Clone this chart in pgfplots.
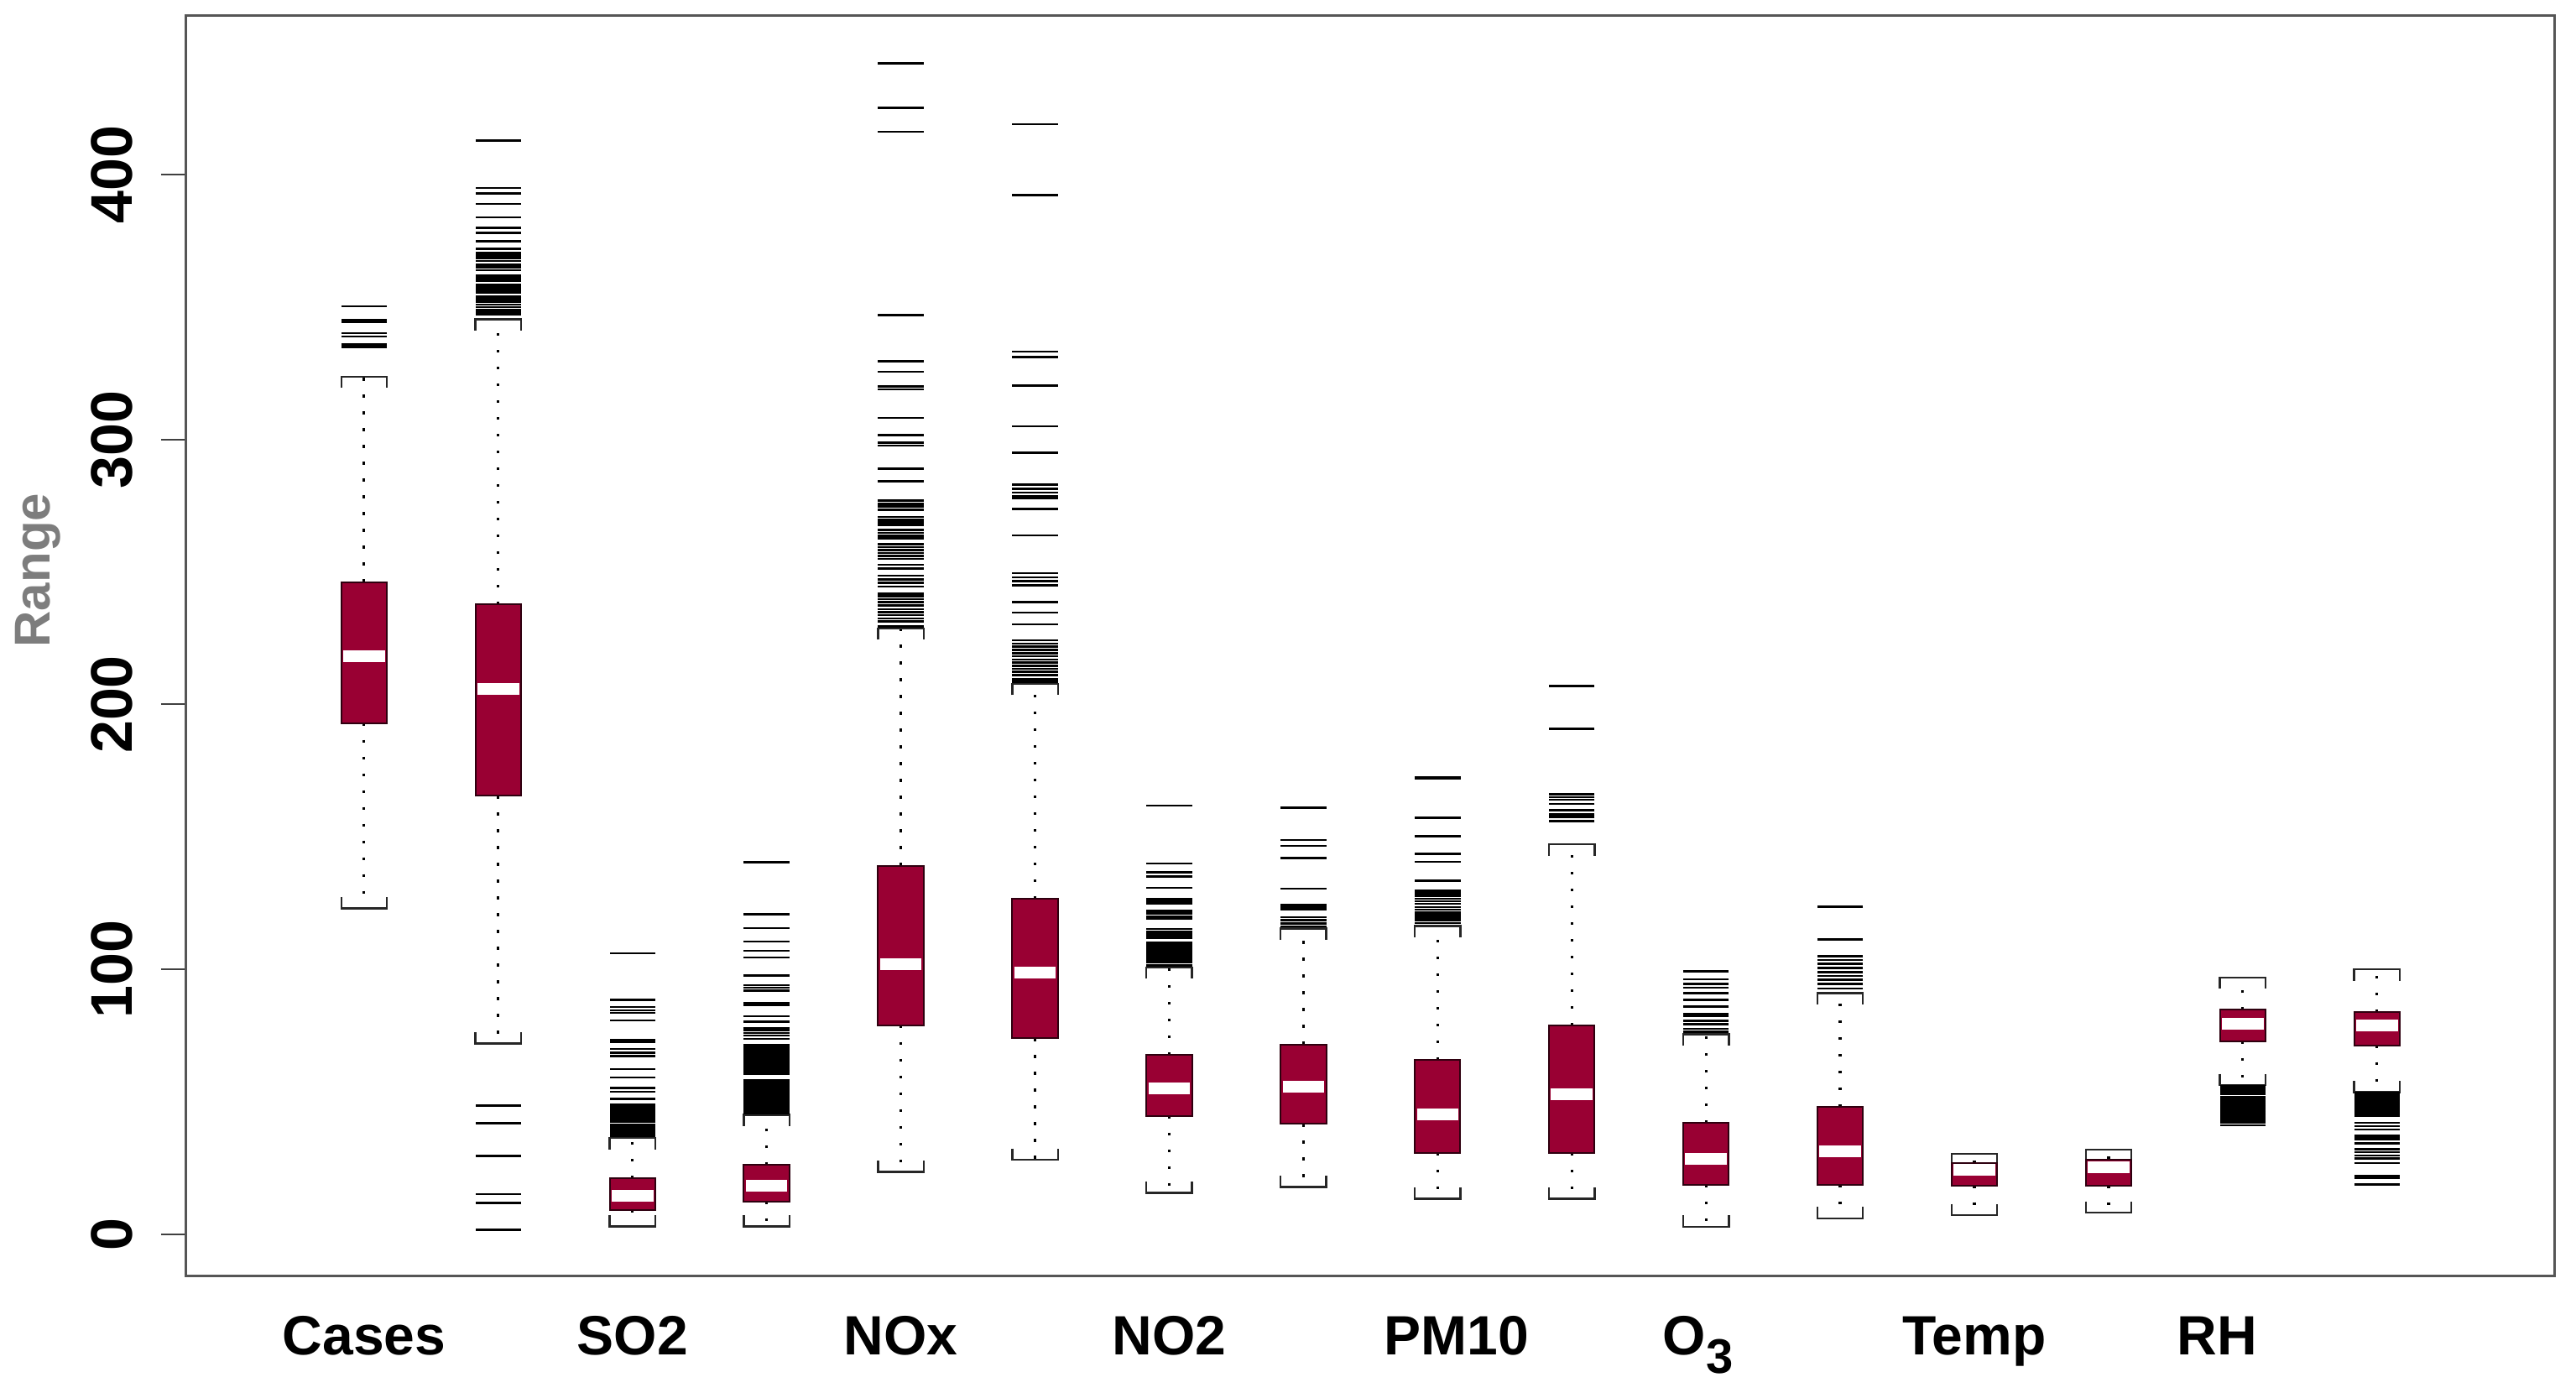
\documentclass[border=0pt]{standalone}
\usepackage{fontspec}
\setmainfont{Liberation Sans}
\usepackage{pgfplots}
\pgfplotsset{compat=1.18}
\definecolor{boxred}{RGB}{153,0,51}
\definecolor{framec}{RGB}{85,85,85}
\definecolor{labc}{RGB}{125,125,125}
\pgfplotsset{
  whisk/.style={black, line width=0.8pt, dash pattern=on 0.8pt off 4.2pt, forget plot},
  stap/.style={black!85, line width=0.6pt, forget plot},
  boxst/.style={fill=boxred, draw=black!70!boxred, line width=0.5pt, forget plot},
  med/.style={white, line width=3.5pt, forget plot},
  outl/.style={only marks, mark=-, mark size=6.8pt, mark options={line width=0.65pt, black}, forget plot},
}
% x, lower whisker, q1, median, q3, upper whisker
\newcommand\bx[6]{%
  \pgfmathsetmacro\xl{#1-0.17}\pgfmathsetmacro\xr{#1+0.17}%
  \pgfmathsetmacro\ml{#1-0.155}\pgfmathsetmacro\mr{#1+0.155}%
  \pgfmathsetmacro\lleg{#2+4.3}\pgfmathsetmacro\uleg{#6-4.3}%
  \addplot[whisk] coordinates {(#1,#3) (#1,#2)};
  \addplot[whisk] coordinates {(#1,#5) (#1,#6)};
  \addplot[stap] coordinates {(\xl,\lleg) (\xl,#2) (\xr,#2) (\xr,\lleg)};
  \addplot[stap] coordinates {(\xl,\uleg) (\xl,#6) (\xr,#6) (\xr,\uleg)};
  \addplot[boxst] coordinates {(\xl,#3) (\xr,#3) (\xr,#5) (\xl,#5)} -- cycle;
  \addplot[med] coordinates {(\ml,#4) (\mr,#4)};
}
\begin{document}
\begin{tikzpicture}
\begin{axis}[
  scale only axis, width=705.5pt, height=375.375pt,
  xmin=-0.325, xmax=17.321, ymin=-15.8, ymax=460,
  axis line style={draw=framec, line width=0.75pt},
  tick align=outside, major tick length=7.5pt,
  ytick pos=left, xtick pos=bottom,
  ytick={0,100,200,300,400},
  xtick={1,3,5,7,9.14,10.94,13,14.81},
  xticklabels={Cases,SO2,NOx,NO2,PM10,{O\raisebox{-0.32em}{\fontsize{14.5}{15}\selectfont 3}},Temp,RH},
  xtick style={draw=none},
  ytick style={black!75, line width=0.5pt},
  /pgf/number format/assume math mode=true,
  yticklabel style={font=\fontsize{17.5}{18}\selectfont\bfseries, rotate=90, anchor=south, inner sep=0pt},
  yticklabel shift=8.25pt,
  xticklabel style={font=\fontsize{16.5}{18}\selectfont\bfseries, anchor=base, inner sep=0pt},
  xticklabel shift=16.1pt,
  ylabel={Range},
  ylabel style={font=\fontsize{15}{16}\selectfont\bfseries, text=labc, at={(axis description cs:-0.06265,0.56)}, anchor=center},
]
\bx{1}{123}{193}{218.3}{246.2}{323.8}
\bx{2}{72}{165.5}{206}{237.8}{345.5}
\bx{3}{2.9}{9.2}{14.5}{21.1}{36.3}
\bx{4}{2.9}{12.4}{18.2}{26.1}{45}
\bx{5}{23.5}{78.8}{102}{139.1}{228.7}
\bx{6}{28}{73.9}{98.8}{126.7}{207.8}
\bx{7}{15.6}{44.7}{55}{67.7}{100.7}
\bx{8}{17.8}{41.6}{55.7}{71.6}{115.4}
\bx{9}{13.4}{30.7}{45.2}{65.8}{116.4}
\bx{10}{13.4}{30.7}{52.8}{78.8}{147.2}
\bx{11}{2.8}{18.6}{28.5}{41.9}{75.4}
\bx{12}{5.9}{18.6}{31.4}{48.1}{91}
\bx{13}{7.1}{18.4}{24.2}{26.8}{30.3}
\bx{14}{8.1}{18.4}{25.2}{28.2}{31.9}
\bx{15}{56.2}{72.8}{79.4}{84.7}{96.9}
\bx{16}{53.6}{71.3}{78.9}{83.9}{100}
% outliers
\addplot[outl] table[row sep=\\, x expr=1, y index=0] {v\\335\\336\\339\\340.2\\344.5\\345.3\\350.4\\};
\addplot[outl] table[row sep=\\, x expr=2, y index=0] {v\\413\\395\\393\\389\\384\\380\\378\\375\\372\\370.5\\369.5\\368.5\\367.5\\366\\365\\364\\362\\361\\360\\358.5\\357.5\\356.5\\355.5\\354\\353\\352\\351\\350\\349\\348\\347.3\\48.6\\41.9\\29.5\\15.1\\11.7\\1.7\\};
\addplot[outl] table[row sep=\\, x expr=3, y index=0] {v\\106\\88.4\\85.8\\84.5\\83.6\\80.7\\73.3\\72.5\\69.9\\68.5\\67.3\\62.3\\59.1\\55.1\\53.8\\51.1\\48.8\\48\\47.2\\46.4\\45.6\\44.8\\44\\43.2\\42.5\\41.4\\40.6\\39.8\\39\\38.2\\37.4\\36.9\\};
\addplot[outl] table[row sep=\\, x expr=4, y index=0] {v\\140.5\\120.7\\115.5\\110.5\\107\\104.5\\97.6\\94\\93\\92\\87.3\\86.5\\82.3\\80.2\\77.9\\77\\76\\75\\73.7\\71.5\\70.7\\70\\69.2\\68.4\\67.6\\66.8\\66\\65.2\\64.4\\63.6\\62.8\\62\\61.2\\60.4\\58\\57.2\\56.4\\55.6\\54.8\\54\\53.2\\52.4\\51.6\\50.8\\50\\49.2\\48.4\\47.6\\46.8\\46\\45.5\\};
\addplot[outl] table[row sep=\\, x expr=5, y index=0] {v\\442\\425.3\\416.2\\347.1\\329.6\\325.6\\320\\319\\308.2\\301.8\\298.8\\297.8\\289.1\\284.3\\276.9\\275.8\\274.7\\273.6\\270.8\\269.8\\268.8\\267.8\\265.9\\264.8\\263.7\\262.7\\260.5\\259.4\\258.3\\257.2\\256.1\\255\\252.8\\251.4\\248.6\\247.3\\245.9\\244.5\\241.9\\240.8\\239.7\\238.6\\237.4\\235.9\\234.8\\233.7\\232.5\\231.4\\229.5\\};
\addplot[outl] table[row sep=\\, x expr=6, y index=0] {v\\419.1\\392.4\\333.3\\331.1\\320.5\\305\\295.1\\283\\281.5\\280\\278.5\\277.8\\273.8\\263.8\\249.6\\248\\246.5\\245\\238.7\\234.7\\230.3\\224.2\\223\\221.8\\220.6\\219.4\\218.2\\217\\215.8\\214.6\\213.4\\212.3\\211\\209.5\\208.5\\};
\addplot[outl] table[row sep=\\, x expr=7, y index=0] {v\\161.8\\140\\136.7\\135\\130.7\\126.5\\125.6\\124.8\\122\\121\\120\\119.2\\115.2\\114.3\\113.4\\112.6\\111.8\\110\\109.2\\108.4\\107.6\\106.8\\106\\105.2\\104.4\\103.6\\102.8\\101.5\\};
\addplot[outl] table[row sep=\\, x expr=8, y index=0] {v\\161\\148.8\\146.6\\142\\130.4\\124.2\\123.3\\122.5\\119.7\\118.5\\117.2\\116.2\\};
\addplot[outl] table[row sep=\\, x expr=9, y index=0] {v\\172.6\\172\\157.2\\150.3\\143.5\\140.6\\133.4\\129.7\\128.7\\127.7\\126.7\\125.7\\124.7\\123.5\\122.5\\121.5\\120.5\\119.5\\118.5\\117.5\\};
\addplot[outl] table[row sep=\\, x expr=10, y index=0] {v\\207\\190.8\\166\\165\\164\\162.5\\160\\158.5\\157.5\\156\\};
\addplot[outl] table[row sep=\\, x expr=11, y index=0] {v\\99.3\\96.2\\94.5\\93.1\\91\\88.4\\86\\83.2\\82.5\\80.5\\79.2\\77.5\\76.5\\};
\addplot[outl] table[row sep=\\, x expr=12, y index=0] {v\\123.6\\111.3\\104.9\\103.5\\102\\100.5\\99\\97.5\\96\\94.5\\92.7\\};
\addplot[outl] table[row sep=\\, x expr=15, y index=0] {v\\55.8\\55.1\\54.4\\53.7\\53\\51.9\\51.2\\50.5\\49.8\\48.8\\48.1\\47.4\\46.7\\46\\45.2\\44.5\\43.8\\42.9\\42\\41.1\\};
\addplot[outl] table[row sep=\\, x expr=16, y index=0] {v\\53.2\\52.5\\51.8\\51.1\\50.4\\49.7\\49\\48.3\\47.6\\46.9\\46.2\\45.5\\44.8\\42\\40.8\\39.5\\37.2\\36.5\\35.8\\34.3\\32\\31\\29.7\\28.5\\26.8\\22\\21.3\\18.8\\};
\end{axis}
\pgfresetboundingbox
\path ([xshift=-55.5pt,yshift=-34.625pt]current axis.south west) rectangle ([xshift=6.5pt,yshift=4.75pt]current axis.north east);
\end{tikzpicture}
\end{document}
